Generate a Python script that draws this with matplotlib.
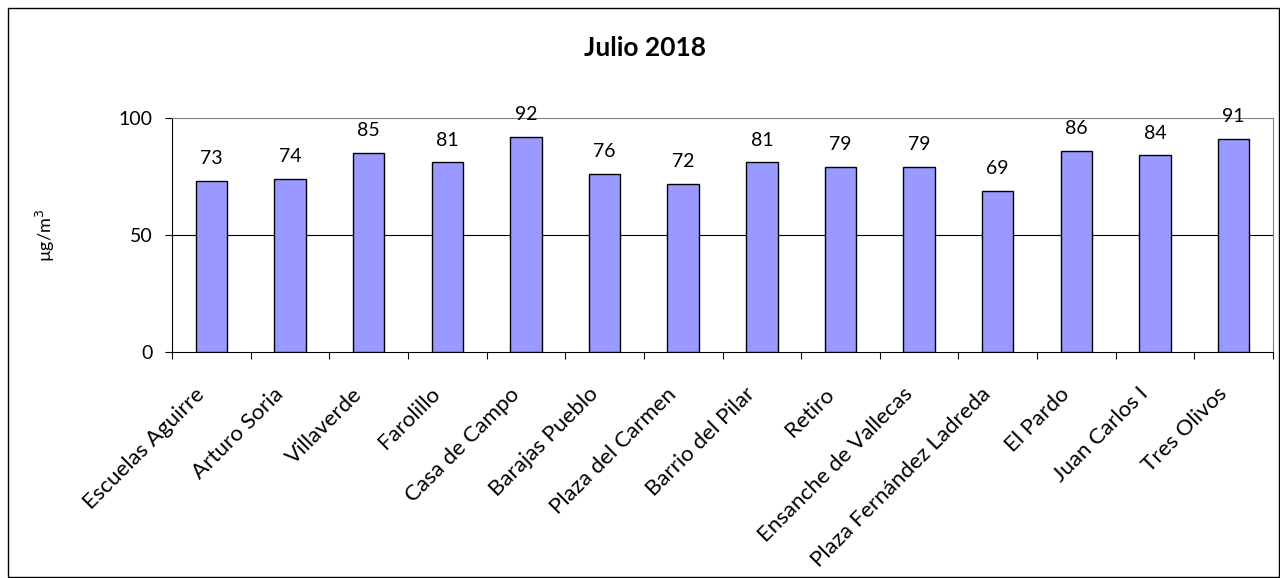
import matplotlib
matplotlib.use("Agg")
import matplotlib.pyplot as plt
import matplotlib.transforms as mtransforms
from matplotlib.patches import Rectangle

plt.rcParams['font.family'] = ['Lato', 'DejaVu Sans']

estaciones = ["Escuelas Aguirre", "Arturo Soria", "Villaverde", "Farolillo",
              "Casa de Campo", "Barajas Pueblo", "Plaza del Carmen", "Barrio del Pilar",
              "Retiro", "Ensanche de Vallecas", "Plaza Fernández Ladreda", "El Pardo",
              "Juan Carlos I", "Tres Olivos"]
valores = [73, 74, 85, 81, 92, 76, 72, 81, 79, 79, 69, 86, 84, 91]
yticks = [0, 50, 100]

fig = plt.figure(figsize=(12.8, 5.78), dpi=100)
# marco exterior del grafico
fig.patches.append(Rectangle((8 / 1280, 1 / 578), 1271 / 1280, 569 / 578,
                             transform=fig.transFigure, fill=False,
                             edgecolor="black", linewidth=1))

ax = fig.add_axes([172 / 1280, 226 / 578, 1101 / 1280, 234 / 578])
x = list(range(len(estaciones)))
ax.bar(x, valores, width=0.4, color="#9999ff", edgecolor="black", linewidth=1, zorder=3)

for xi, v in zip(x, valores):
    ax.annotate(str(v), (xi, v), xytext=(0, 10), textcoords="offset points",
                ha="center", va="bottom", fontsize=14)

ax.set_xlim(-0.5, len(estaciones) - 0.5)
ax.set_ylim(0, 100)
ax.set_yticks(yticks)
ax.tick_params(axis="y", labelsize=14, direction="out", length=5, pad=9)
ax.axhline(50, color="black", linewidth=0.8, zorder=1)

ax.set_xticks([i - 0.5 for i in range(len(estaciones) + 1)])
ax.set_xticklabels([])
ax.tick_params(axis="x", direction="out", length=5)
ax.set_xticks(x, minor=True)
ax.set_xticklabels(estaciones, minor=True, rotation=45, ha="right",
                   rotation_mode="anchor", fontsize=16)
ax.tick_params(axis="x", which="minor", length=0, pad=23)
# desplazar un poco las etiquetas hacia la izquierda
desplaz = mtransforms.ScaledTranslation(-17 / 100, 0, fig.dpi_scale_trans)
for lab in ax.get_xticklabels(minor=True):
    lab.set_transform(lab.get_transform() + desplaz)

for s in ["top", "right"]:
    ax.spines[s].set_color("#808080")
ax.spines["left"].set_color("black")
ax.spines["bottom"].set_color("black")

ax.set_ylabel("µg/m$^3$", fontsize=13)
ax.yaxis.set_label_coords(-(172 - 57) / 1101, 0.5)
fig.text(645 / 1280, 1 - 48 / 578, "Julio 2018", ha="center", va="center",
         fontsize=19, fontweight="bold")

fig.savefig("out.png", dpi=100)
